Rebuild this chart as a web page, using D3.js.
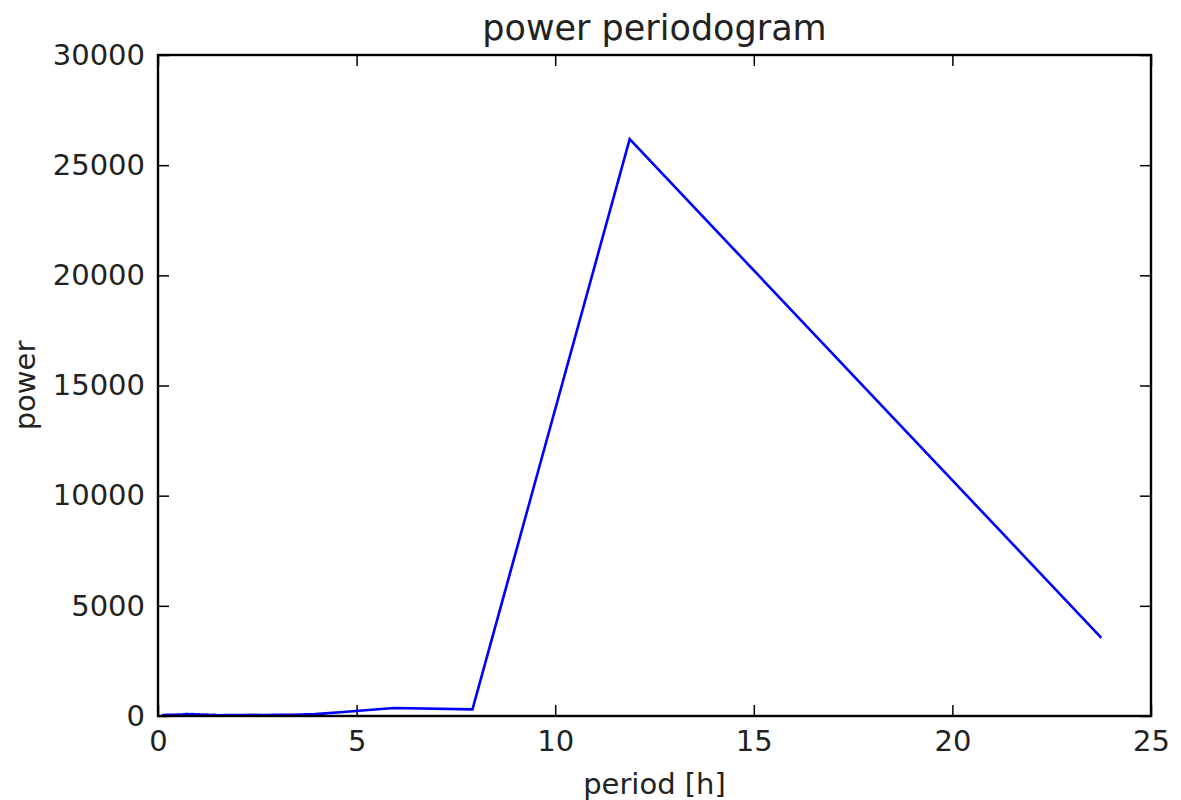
<!DOCTYPE html>
<html>
  <head>
    <meta charset="utf-8">
    <title>power periodogram</title>
    <style>
      body { margin: 0; background: #fff; }
      text { font-family: "DejaVu Sans", sans-serif; fill: #222; }
    </style>
  </head>
  <body>
    <script src="https://d3js.org/d3.v7.min.js"></script>
    <script>
      // periodos [h] y potencia
      var periods = [23.75, 11.875, 7.917, 5.938, 4.75, 3.958, 3.393, 2.969, 2.639, 2.375,
        2.159, 1.979, 1.827, 1.696, 1.583, 1.484, 1.397, 1.319, 1.25, 1.188,
        1.131, 1.08, 1.033, 0.99, 0.95, 0.913, 0.88, 0.848, 0.819, 0.792,
        0.766, 0.742, 0.72, 0.699, 0.679, 0.66, 0.642, 0.625, 0.609, 0.594,
        0.5, 0.4, 0.3, 0.2, 0.1];
      var power = [3550, 26180, 300, 360, 190, 85, 60, 55, 45, 50,
        40, 45, 38, 42, 35, 40, 50, 45, 60, 55,
        70, 60, 75, 65, 80, 70, 90, 75, 85, 70,
        80, 95, 75, 85, 70, 80, 65, 75, 70, 60,
        65, 55, 60, 50, 45];
      var xTicks = [0, 5, 10, 15, 20, 25];
      var yTicks = [0, 5000, 10000, 15000, 20000, 25000, 30000];

      var width = 1181, height = 800;
      var margin = {top: 55, right: 30, bottom: 84, left: 158};

      var svg = d3.select("body").append("svg")
        .attr("width", width)
        .attr("height", height);

      var x = d3.scaleLinear().domain([0, 25]).range([margin.left, width - margin.right]);
      var y = d3.scaleLinear().domain([0, 30000]).range([height - margin.bottom, margin.top]);

      var tickLen = 11, fs = 29;

      // ejes (ticks hacia dentro, en los cuatro lados)
      svg.append("g")
        .attr("transform", "translate(0," + y(0) + ")")
        .call(d3.axisBottom(x).tickValues(xTicks).tickSizeInner(-tickLen).tickSizeOuter(0).tickPadding(14).tickFormat(d3.format("d")));
      svg.append("g")
        .attr("transform", "translate(0," + y(30000) + ")")
        .call(d3.axisTop(x).tickValues(xTicks).tickSizeInner(-tickLen).tickSizeOuter(0).tickFormat(""));
      svg.append("g")
        .attr("transform", "translate(" + x(0) + ",0)")
        .call(d3.axisLeft(y).tickValues(yTicks).tickSizeInner(-tickLen).tickSizeOuter(0).tickPadding(13).tickFormat(d3.format("d")));
      svg.append("g")
        .attr("transform", "translate(" + x(25) + ",0)")
        .call(d3.axisRight(y).tickValues(yTicks).tickSizeInner(-tickLen).tickSizeOuter(0).tickFormat(""));

      svg.selectAll(".domain").remove();
      svg.selectAll(".tick line").attr("stroke", "#000").attr("stroke-width", 1.5);
      svg.selectAll(".tick text").style("font-size", fs + "px").attr("fill", "#222");

      // línea
      var pts = periods.map(function(p, i) { return [p, power[i]]; });
      svg.append("path")
        .datum(pts)
        .attr("fill", "none")
        .attr("stroke", "#0000ff")
        .attr("stroke-width", 2.6)
        .attr("d", d3.line().x(function(d) { return x(d[0]); }).y(function(d) { return y(d[1]); }));

      // marco
      svg.append("rect")
        .attr("x", x(0)).attr("y", y(30000))
        .attr("width", x(25) - x(0)).attr("height", y(0) - y(30000))
        .attr("fill", "none").attr("stroke", "#000").attr("stroke-width", 2.4);

      // títulos
      svg.append("text")
        .attr("x", (x(0) + x(25)) / 2).attr("y", 40)
        .attr("text-anchor", "middle")
        .style("font-size", "35px")
        .text("power periodogram");
      svg.append("text")
        .attr("x", (x(0) + x(25)) / 2).attr("y", 794)
        .attr("text-anchor", "middle")
        .style("font-size", fs + "px")
        .text("period [h]");
      svg.append("text")
        .attr("transform", "translate(35," + (y(15000)) + ") rotate(-90)")
        .attr("text-anchor", "middle")
        .style("font-size", fs + "px")
        .text("power");
    </script>
  </body>
</html>
